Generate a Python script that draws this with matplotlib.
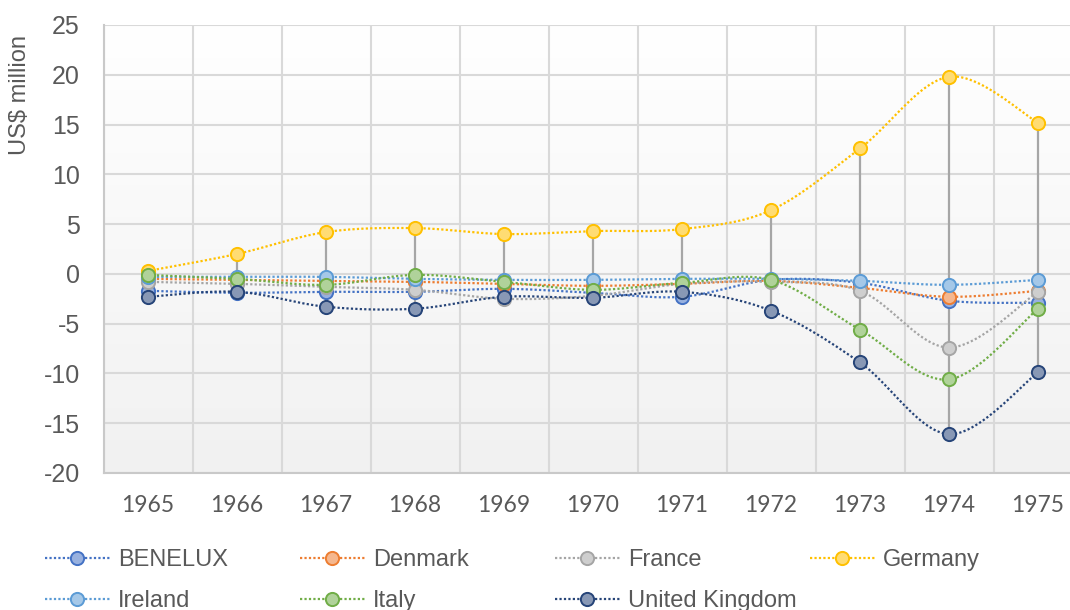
import matplotlib
matplotlib.use("Agg")
import matplotlib.pyplot as plt
from matplotlib.lines import Line2D
import matplotlib.colors as mcolors
import numpy as np

plt.rcParams["axes.unicode_minus"] = False

# data (US$ million)
years = ["1965", "1966", "1967", "1968", "1969", "1970",
         "1971", "1972", "1973", "1974", "1975"]
benelux = [-1.7, -1.9, -1.8, -1.8, -1.5, -1.9, -2.3, -0.6, -0.9, -2.7, -2.9]
denmark = [-0.5, -0.6, -0.7, -0.8, -1.0, -1.2, -1.0, -0.7, -1.4, -2.3, -1.7]
france = [-0.8, -1.0, -1.3, -1.6, -2.5, -2.2, -1.0, -0.8, -1.7, -7.4, -1.8]
germany = [0.3, 2.0, 4.2, 4.6, 4.0, 4.3, 4.5, 6.4, 12.6, 19.8, 15.2]
ireland = [-0.3, -0.3, -0.3, -0.5, -0.6, -0.6, -0.5, -0.5, -0.7, -1.1, -0.6]
italy = [-0.1, -0.5, -1.1, -0.1, -0.8, -1.6, -0.9, -0.6, -5.6, -10.6, -3.5]
uk = [-2.3, -1.8, -3.3, -3.5, -2.3, -2.4, -1.8, -3.7, -8.9, -16.1, -9.9]

names = ["BENELUX", "Denmark", "France", "Germany",
         "Ireland", "Italy", "United Kingdom"]
series = [benelux, denmark, france, germany, ireland, italy, uk]
colors = ["#4472C4", "#ED7D31", "#A5A5A5", "#FFC000",
          "#5B9BD5", "#70AD47", "#264478"]

TXT = "#595959"
GRID = "#D9D9D9"


def light(c, a=0.55):
    r, g, b = mcolors.to_rgb(c)
    return (a * r + 1 - a, a * g + 1 - a, a * b + 1 - a)


# Excel-like smoothed line (cubic bezier through the points)
def smooth(x, y, n=24):
    x = np.asarray(x, float)
    y = np.asarray(y, float)
    px, py = [], []
    for i in range(len(x) - 1):
        x0, y0 = (x[i - 1], y[i - 1]) if i > 0 else (x[i], y[i])
        x3, y3 = (x[i + 2], y[i + 2]) if i + 2 < len(x) else (x[i + 1], y[i + 1])
        c1 = (x[i] + (x[i + 1] - x0) / 6, y[i] + (y[i + 1] - y0) / 6)
        c2 = (x[i + 1] - (x3 - x[i]) / 6, y[i + 1] - (y3 - y[i]) / 6)
        t = np.linspace(0, 1, n)
        bx = ((1 - t) ** 3 * x[i] + 3 * (1 - t) ** 2 * t * c1[0]
              + 3 * (1 - t) * t ** 2 * c2[0] + t ** 3 * x[i + 1])
        by = ((1 - t) ** 3 * y[i] + 3 * (1 - t) ** 2 * t * c1[1]
              + 3 * (1 - t) * t ** 2 * c2[1] + t ** 3 * y[i + 1])
        px.extend(bx)
        py.extend(by)
    return px, py


fig = plt.figure(figsize=(10.7, 6.1), dpi=100)
ax = fig.add_axes([103.5 / 1070, 137 / 610, 979 / 1070, 448 / 610])

# plot area gradient
grad = np.linspace(1.0, 0.945, 256).reshape(-1, 1)
ax.imshow(np.dstack([grad, grad, grad]), extent=[0, 1, 0, 1],
          transform=ax.transAxes, aspect="auto", zorder=0)

x = np.arange(len(years))
for s, c in zip(series, colors):
    sx, sy = smooth(x, s)
    ax.plot(sx, sy, color=c, lw=1.6, ls=(0, (1, 1)), zorder=2)

# high-low lines
arr = np.array(series)
ax.vlines(x, arr.min(axis=0), arr.max(axis=0), color="#A6A6A6", lw=1.6, zorder=3)

for s, c in zip(series, colors):
    ax.plot(x, s, ls="none", marker="o", ms=9.5, mfc=light(c), mec=c,
            mew=1.4, zorder=4)

ax.set_xlim(-0.5, len(years) - 0.5)
ax.set_ylim(-20, 25)
ax.set_yticks(np.arange(-20, 26, 5))
ax.set_xticks(x)
ax.set_xticklabels(years, family="Lato", fontsize=16.5, color=TXT)
ax.set_xticks(np.arange(-0.5, len(years), 1), minor=True)
ax.tick_params(axis="both", which="both", length=0)
ax.tick_params(axis="x", pad=16)
ax.tick_params(axis="y", pad=17, labelsize=18, labelcolor=TXT)
for lab in ax.get_yticklabels():
    lab.set_family("Liberation Sans")
ax.grid(True, which="major", axis="y", color=GRID, lw=1.5, zorder=1)
ax.grid(True, which="minor", axis="x", color=GRID, lw=1.5, zorder=1)
ax.set_axisbelow(True)
for sp in ["top", "right"]:
    ax.spines[sp].set_visible(False)
for sp in ["left", "bottom"]:
    ax.spines[sp].set_color("#C9C9C9")
    ax.spines[sp].set_linewidth(1.5)

fig.text(20 / 1070, 1 - 95 / 610, "US$ million", rotation=90, ha="center",
         va="center", fontsize=17, color=TXT, family="Liberation Sans")

# legend, one block per column so columns sit on a fixed pitch
handles = [Line2D([], [], color=c, lw=1.6, ls=(0, (1, 1)), marker="o",
                  ms=9.5, mfc=light(c), mec=c, mew=1.4) for c in colors]
cols = [[0, 4], [1, 5], [2, 6], [3]]
for k, idx in enumerate(cols):
    leg = fig.legend([handles[i] for i in idx], [names[i] for i in idx],
                     loc="upper left",
                     bbox_to_anchor=((45 + 255 * k) / 1070, 1 - 549 / 610),
                     frameon=False, fontsize=17, handlelength=2.75,
                     handletextpad=0.35, labelspacing=0.8, borderpad=0,
                     borderaxespad=0, numpoints=1,
                     prop={"family": "Liberation Sans", "size": 17})
    for t in leg.get_texts():
        t.set_color(TXT)

fig.savefig("out.png", dpi=100)
